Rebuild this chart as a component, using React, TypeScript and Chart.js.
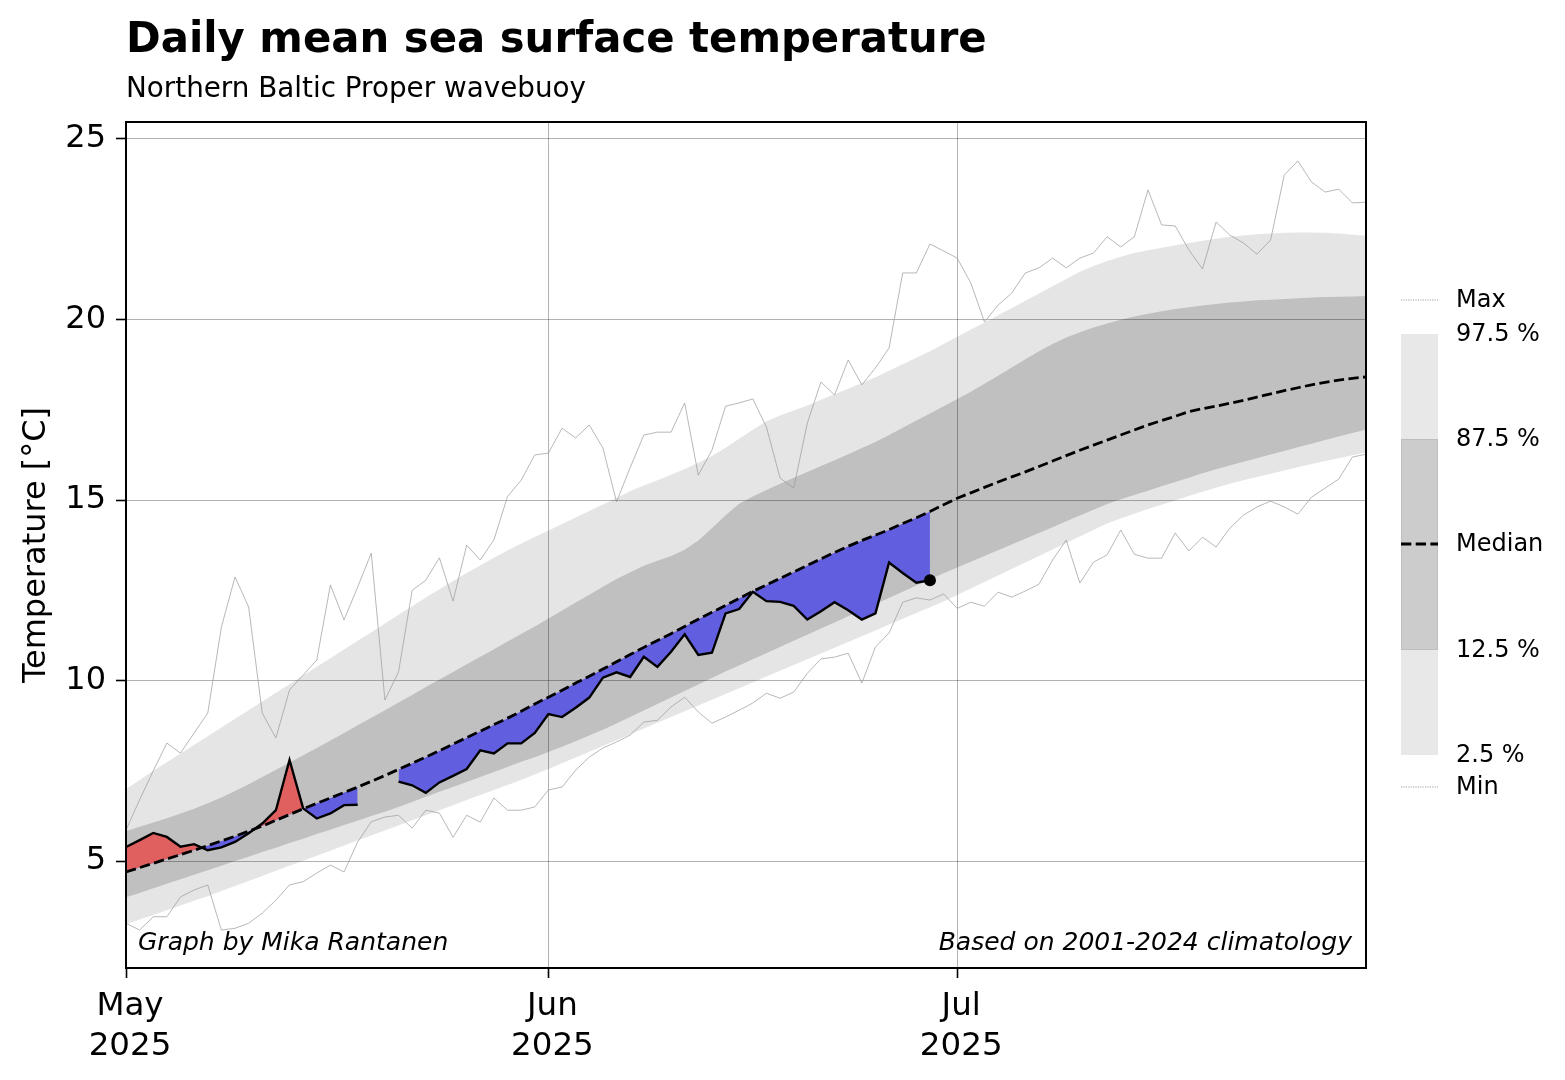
import { useEffect, useRef } from 'react';
import { Chart, registerables } from 'chart.js';

Chart.register(...registerables);

const FONT = '"DejaVu Sans", "Liberation Sans", sans-serif';

// Month ticks, as day offsets from 1 May 2025
const monthTickDays = [0, 31, 61];
const monthTickNames = ['May', 'Jun', 'Jul'];
const tickYear = '2025';
const tempTicks = [5, 10, 15, 20, 25];

// 2001-2024 daily climatology, 1 May .. 31 Jul (°C)
const climMax = [
  5.86, 6.7, 7.5, 8.27, 7.99, 8.55, 9.1, 11.48, 12.87, 12.04,
  9.1, 8.41, 9.74, 10.15, 10.57, 12.65, 11.68, 12.59, 13.53, 9.46,
  10.24, 12.5, 12.78, 13.4, 12.2, 13.75, 13.34, 13.9, 15.1, 15.55,
  16.25, 16.3, 16.99, 16.72, 17.08, 16.44, 14.95, 15.9, 16.8, 16.88,
  16.88, 17.69, 15.69, 16.38, 17.6, 17.69, 17.8, 17.02, 15.61, 15.33,
  17.13, 18.27, 17.91, 18.88, 18.19, 18.66, 19.21, 21.29, 21.29, 22.09,
  21.9, 21.7, 21.01, 19.93, 20.4, 20.73, 21.29, 21.43, 21.7, 21.43,
  21.7, 21.84, 22.29, 22.01, 22.29, 23.59, 22.62, 22.59, 21.93, 21.4,
  22.7, 22.34, 22.12, 21.81, 22.2, 24.0, 24.39, 23.81, 23.53, 23.61,
  23.23, 23.25,
];

const climP975 = [
  7.0, 7.25, 7.5, 7.74, 7.98, 8.22, 8.46, 8.7, 8.94, 9.18,
  9.42, 9.66, 9.9, 10.14, 10.38, 10.62, 10.86, 11.1, 11.34, 11.58,
  11.82, 12.06, 12.3, 12.53, 12.76, 12.98, 13.19, 13.4, 13.6, 13.8,
  13.98, 14.16, 14.34, 14.52, 14.7, 14.88, 15.06, 15.25, 15.4, 15.55,
  15.7, 15.86, 16.03, 16.22, 16.45, 16.7, 16.95, 17.18, 17.34, 17.48,
  17.62, 17.78, 17.93, 18.08, 18.24, 18.4, 18.58, 18.76, 18.94, 19.12,
  19.32, 19.52, 19.72, 19.92, 20.12, 20.32, 20.52, 20.72, 20.92, 21.12,
  21.32, 21.48, 21.62, 21.74, 21.84, 21.92, 21.99, 22.06, 22.12, 22.18,
  22.24, 22.29, 22.33, 22.36, 22.38, 22.4, 22.41, 22.41, 22.4, 22.38,
  22.35, 22.32,
];

const climP875 = [
  5.83, 5.95, 6.07, 6.19, 6.32, 6.45, 6.6, 6.76, 6.94, 7.13,
  7.33, 7.53, 7.73, 7.93, 8.13, 8.34, 8.55, 8.76, 8.97, 9.18,
  9.39, 9.6, 9.82, 10.03, 10.24, 10.45, 10.66, 10.87, 11.08, 11.29,
  11.5, 11.72, 11.94, 12.16, 12.38, 12.6, 12.81, 13.0, 13.18, 13.32,
  13.45, 13.62, 13.88, 14.22, 14.58, 14.9, 15.1, 15.28, 15.45, 15.62,
  15.78, 15.94, 16.1, 16.27, 16.44, 16.61, 16.8, 17.0, 17.2, 17.4,
  17.6, 17.8, 18.0, 18.22, 18.44, 18.67, 18.9, 19.12, 19.32, 19.5,
  19.65, 19.78, 19.89, 19.99, 20.08, 20.16, 20.23, 20.29, 20.34, 20.39,
  20.43, 20.47, 20.5, 20.53, 20.55, 20.57, 20.59, 20.61, 20.62, 20.63,
  20.64, 20.65,
];

const climMedian = [
  4.7, 4.82, 4.94, 5.06, 5.18, 5.3, 5.43, 5.56, 5.69, 5.83,
  5.97, 6.13, 6.29, 6.45, 6.6, 6.75, 6.9, 7.05, 7.21, 7.37,
  7.54, 7.71, 7.88, 8.06, 8.24, 8.42, 8.6, 8.78, 8.96, 9.15,
  9.35, 9.54, 9.73, 9.93, 10.12, 10.32, 10.52, 10.72, 10.92, 11.11,
  11.3, 11.5, 11.7, 11.89, 12.08, 12.28, 12.47, 12.65, 12.83, 13.01,
  13.19, 13.37, 13.55, 13.72, 13.88, 14.03, 14.18, 14.35, 14.51, 14.68,
  14.87, 15.05, 15.2, 15.35, 15.5, 15.64, 15.78, 15.93, 16.08, 16.23,
  16.38, 16.52, 16.66, 16.8, 16.94, 17.08, 17.2, 17.32, 17.45, 17.53,
  17.6, 17.68, 17.76, 17.85, 17.94, 18.03, 18.11, 18.19, 18.26, 18.32,
  18.37, 18.41,
];

const climP125 = [
  4.0, 4.12, 4.25, 4.37, 4.5, 4.62, 4.75, 4.87, 5.0, 5.12,
  5.25, 5.37, 5.5, 5.62, 5.75, 5.87, 6.0, 6.12, 6.25, 6.37,
  6.5, 6.64, 6.78, 6.92, 7.05, 7.19, 7.33, 7.47, 7.61, 7.75,
  7.88, 8.02, 8.17, 8.32, 8.48, 8.64, 8.81, 8.99, 9.17, 9.35,
  9.53, 9.71, 9.89, 10.07, 10.25, 10.42, 10.59, 10.76, 10.93, 11.1,
  11.27, 11.44, 11.61, 11.78, 11.95, 12.12, 12.29, 12.46, 12.63, 12.8,
  12.97, 13.13, 13.29, 13.45, 13.61, 13.77, 13.93, 14.09, 14.25, 14.41,
  14.57, 14.73, 14.89, 15.02, 15.14, 15.26, 15.38, 15.5, 15.62, 15.74,
  15.85, 15.96, 16.06, 16.16, 16.26, 16.36, 16.46, 16.56, 16.66, 16.76,
  16.86, 16.95,
];

const climP025 = [
  3.25, 3.38, 3.51, 3.64, 3.77, 3.9, 4.03, 4.17, 4.31, 4.45,
  4.59, 4.73, 4.87, 5.01, 5.15, 5.29, 5.43, 5.57, 5.71, 5.85,
  5.99, 6.13, 6.27, 6.41, 6.55, 6.69, 6.83, 6.97, 7.11, 7.25,
  7.4, 7.55, 7.71, 7.87, 8.03, 8.19, 8.35, 8.51, 8.67, 8.83,
  8.99, 9.15, 9.31, 9.47, 9.63, 9.79, 9.95, 10.11, 10.27, 10.43,
  10.59, 10.75, 10.91, 11.07, 11.23, 11.39, 11.55, 11.71, 11.87, 12.03,
  12.19, 12.37, 12.55, 12.73, 12.91, 13.09, 13.27, 13.45, 13.63, 13.81,
  13.99, 14.17, 14.35, 14.49, 14.62, 14.75, 14.87, 14.99, 15.11, 15.23,
  15.34, 15.45, 15.55, 15.64, 15.73, 15.82, 15.91, 16.0, 16.08, 16.16,
  16.24, 16.32,
];

const climMin = [
  3.28, 3.09, 3.46, 3.46, 4.01, 4.2, 4.34, 3.09, 3.14, 3.28,
  3.56, 3.92, 4.34, 4.43, 4.67, 4.89, 4.7, 5.53, 6.09, 6.22,
  6.27, 5.91, 6.41, 6.33, 5.66, 6.27, 6.08, 6.75, 6.41, 6.41,
  6.5, 6.97, 7.05, 7.52, 7.88, 8.13, 8.3, 8.49, 8.85, 8.9,
  9.27, 9.54, 9.13, 8.82, 8.99, 9.18, 9.38, 9.65, 9.51, 9.68,
  10.2, 10.6, 10.65, 10.76, 9.93, 10.93, 11.32, 12.17, 12.29, 12.23,
  12.4, 12.0, 12.17, 12.06, 12.45, 12.31, 12.48, 12.67, 13.34, 13.89,
  12.7, 13.28, 13.48, 14.17, 13.5, 13.39, 13.39, 14.09, 13.59, 13.97,
  13.7, 14.22, 14.58, 14.81, 14.97, 14.81, 14.61, 15.08, 15.33, 15.58,
  16.19, 16.27,
];

// 2025 buoy daily means (null = no data)
const obs2025 = [
  5.39, 5.58, 5.78, 5.67, 5.4, 5.47, 5.3, 5.38, 5.53, 5.77,
  6.04, 6.41, 7.8, 6.46, 6.18, 6.32, 6.55, 6.56, null, null,
  7.2, 7.1, 6.89, 7.18, 7.36, 7.55, 8.07, 7.98, 8.26, 8.26,
  8.55, 9.07, 8.99, 9.25, 9.53, 10.08, 10.23, 10.1, 10.66, 10.38,
  10.8, 11.28, 10.71, 10.77, 11.86, 11.98, 12.46, 12.2, 12.18, 12.07,
  11.69, 11.92, 12.17, 11.95, 11.69, 11.86, 13.27, 12.98, 12.71, 12.78,
];

const legendLabels = ['Max', '97.5 %', '87.5 %', 'Median', '12.5 %', '2.5 %', 'Min'];

const WARM = '#e05f5f';
const COLD = '#615fe0';

const toXY = (arr: (number | null)[]) => arr.map((y, i) => ({ x: i, y }));

const decorPlugin = {
  id: 'decor',
  afterDraw(chart: any) {
    const { ctx, chartArea } = chart;
    const { left, top, right, bottom } = chartArea;
    ctx.save();

    // axes frame
    ctx.strokeStyle = '#000';
    ctx.lineWidth = 2;
    ctx.strokeRect(left, top, right - left, bottom - top);

    // title + subtitle
    ctx.fillStyle = '#000';
    ctx.textAlign = 'left';
    ctx.textBaseline = 'alphabetic';
    ctx.font = `bold 41.8px ${FONT}`;
    ctx.fillText('Daily mean sea surface temperature', left, 52);
    ctx.font = `27.8px ${FONT}`;
    ctx.fillText('Northern Baltic Proper wavebuoy', left, 97);

    // y-axis title
    ctx.save();
    ctx.translate(45, (top + bottom) / 2);
    ctx.rotate(-Math.PI / 2);
    ctx.textAlign = 'center';
    ctx.font = `32px ${FONT}`;
    ctx.fillText('Temperature [°C]', 0, 0);
    ctx.restore();

    // credits inside the axes
    ctx.font = `italic 25px ${FONT}`;
    ctx.textAlign = 'left';
    ctx.fillText('Graph by Mika Rantanen', left + 12, bottom - 18);
    ctx.textAlign = 'right';
    ctx.fillText('Based on 2001-2024 climatology', right - 14, bottom - 18);

    // legend column
    const lx = right + 35;
    const lw = 37;
    const rowY = [300, 334, 439, 544, 650, 755, 787];
    ctx.fillStyle = 'rgba(0,0,0,0.09)';
    ctx.fillRect(lx, rowY[1], lw, rowY[5] - rowY[1]);
    ctx.fillStyle = 'rgba(0,0,0,0.12)';
    ctx.fillRect(lx, rowY[2], lw, rowY[4] - rowY[2]);
    ctx.strokeStyle = 'rgba(0,0,0,0.07)';
    ctx.lineWidth = 1;
    ctx.strokeRect(lx + 0.5, rowY[2] + 0.5, lw - 1, rowY[4] - rowY[2] - 1);

    ctx.strokeStyle = '#777';
    ctx.lineWidth = 0.7;
    ctx.setLineDash([1.2, 1.2]);
    for (const yy of [rowY[0], rowY[6]]) {
      ctx.beginPath();
      ctx.moveTo(lx, yy);
      ctx.lineTo(lx + lw, yy);
      ctx.stroke();
    }
    ctx.strokeStyle = '#000';
    ctx.lineWidth = 2.8;
    ctx.setLineDash([10.3, 4.4]);
    ctx.beginPath();
    ctx.moveTo(lx, rowY[3]);
    ctx.lineTo(lx + lw, rowY[3]);
    ctx.stroke();
    ctx.setLineDash([]);

    ctx.fillStyle = '#000';
    ctx.font = `24px ${FONT}`;
    ctx.textAlign = 'left';
    ctx.textBaseline = 'middle';
    legendLabels.forEach((t, i) => ctx.fillText(t, lx + 55, rowY[i] + 1));

    ctx.restore();
  },
};

export default function App() {
  const canvasRef = useRef<HTMLCanvasElement | null>(null);

  useEffect(() => {
    if (!canvasRef.current) return;
    const lastObs = obs2025.length - 1;
    const thin = { borderColor: '#999', borderWidth: 0.7, pointRadius: 0, fill: false };
    const chart = new Chart(canvasRef.current, {
      type: 'line',
      data: {
        datasets: [
          {
            label: 'Median',
            data: toXY(climMedian),
            borderColor: '#000',
            borderWidth: 2.8,
            borderDash: [10.3, 4.4],
            pointRadius: 0,
            fill: false,
          },
          {
            label: '2025',
            data: toXY(obs2025),
            borderColor: '#000',
            borderWidth: 2.4,
            spanGaps: false,
            pointRadius: (c: any) => (c.dataIndex === lastObs ? 6 : 0),
            pointBackgroundColor: '#000',
            pointBorderWidth: 0,
            fill: { target: 0, above: WARM, below: COLD },
          },
          { label: 'Max', data: toXY(climMax), ...thin },
          { label: 'Min', data: toXY(climMin), ...thin },
          {
            label: '87.5 %',
            data: toXY(climP875),
            borderWidth: 0,
            borderColor: 'transparent',
            pointRadius: 0,
            backgroundColor: 'rgba(0,0,0,0.165)',
            fill: 5,
          },
          {
            label: '12.5 %',
            data: toXY(climP125),
            borderWidth: 0,
            borderColor: 'transparent',
            pointRadius: 0,
            fill: false,
          },
          {
            label: '97.5 %',
            data: toXY(climP975),
            borderWidth: 0,
            borderColor: 'transparent',
            pointRadius: 0,
            backgroundColor: 'rgba(0,0,0,0.1)',
            fill: 7,
          },
          {
            label: '2.5 %',
            data: toXY(climP025),
            borderWidth: 0,
            borderColor: 'transparent',
            pointRadius: 0,
            fill: false,
          },
        ],
      },
      options: {
        responsive: false,
        devicePixelRatio: 1,
        animation: false,
        events: [],
        layout: { padding: { top: 122, right: 199, left: 0, bottom: 0 } },
        plugins: { legend: { display: false }, tooltip: { enabled: false } },
        scales: {
          x: {
            type: 'linear',
            min: 0,
            max: 91,
            afterBuildTicks: (s: any) => {
              s.ticks = monthTickDays.map((v) => ({ value: v }));
            },
            afterFit: (s: any) => {
              s.height = 112;
            },
            ticks: {
              autoSkip: false,
              maxRotation: 0,
              color: '#000',
              padding: 8,
              labelOffset: 4,
              font: { size: 32.5, family: FONT, lineHeight: 1.25 },
              callback: (v: any) => {
                const i = monthTickDays.indexOf(Number(v));
                return i < 0 ? '' : [monthTickNames[i], tickYear];
              },
            },
            grid: {
              color: 'rgba(0,0,0,0.3)',
              lineWidth: 1,
              tickColor: '#000',
              tickLength: 10,
              tickWidth: 1.6,
            },
            border: { display: false },
          },
          y: {
            min: 2.04,
            max: 25.47,
            afterBuildTicks: (s: any) => {
              s.ticks = tempTicks.map((v) => ({ value: v }));
            },
            afterFit: (s: any) => {
              s.width = 126;
            },
            ticks: {
              color: '#000',
              padding: 10,
              font: { size: 32, family: FONT },
              callback: (v: any) => String(v),
            },
            grid: {
              color: 'rgba(0,0,0,0.3)',
              lineWidth: 1,
              tickColor: '#000',
              tickLength: 10,
              tickWidth: 1.6,
            },
            border: { display: false },
          },
        },
      },
      plugins: [decorPlugin],
    } as any);
    return () => chart.destroy();
  }, []);

  return (
    <div style={{ position: 'fixed', left: 0, top: 0, width: 1565, height: 1080, background: '#fff' }}>
      <canvas ref={canvasRef} width={1565} height={1080} style={{ display: 'block' }} />
    </div>
  );
}
